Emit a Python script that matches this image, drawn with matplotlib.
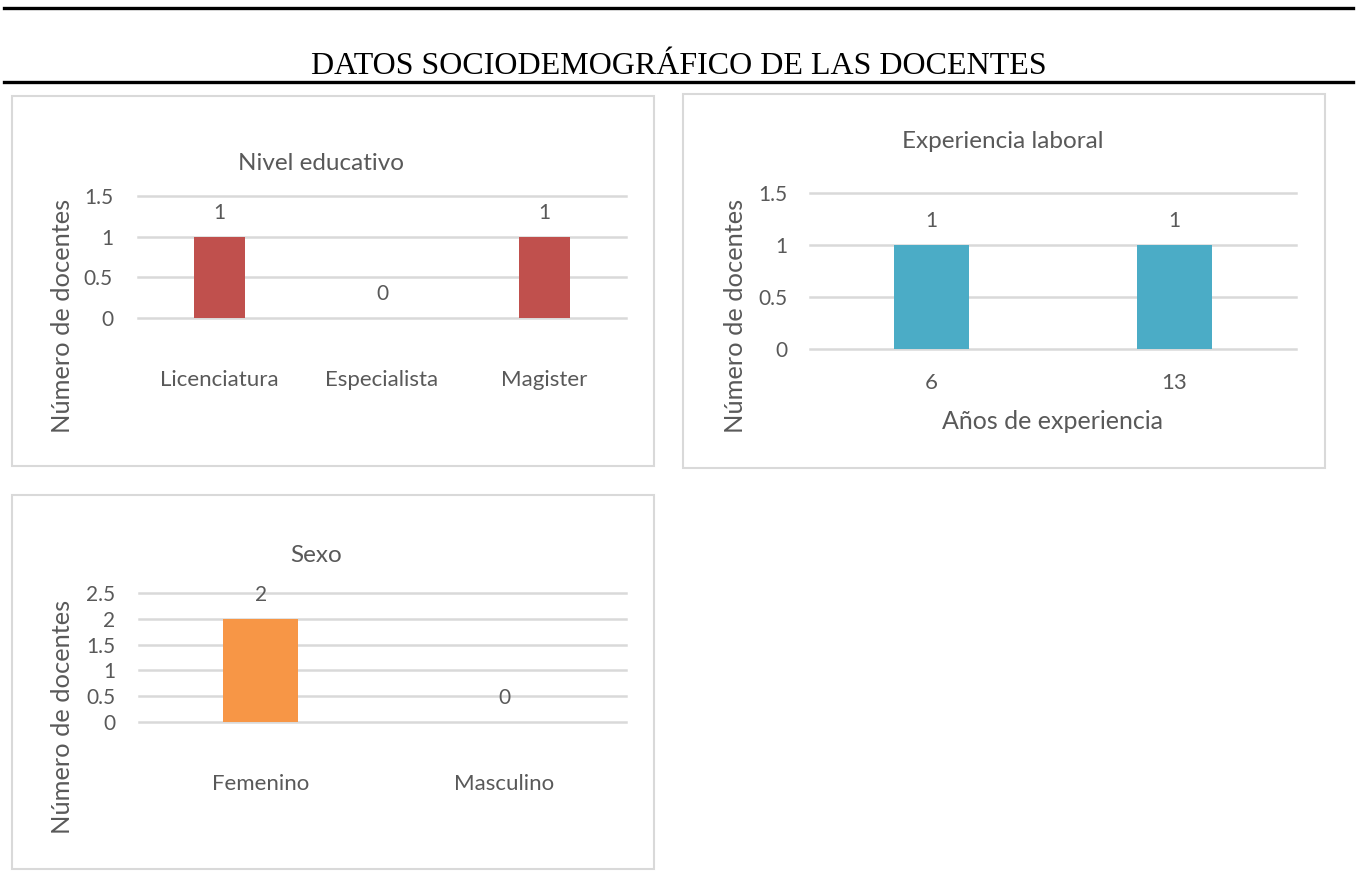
import matplotlib
matplotlib.use("Agg")
import matplotlib.pyplot as plt
from matplotlib.patches import Rectangle
from matplotlib.lines import Line2D

# data
nivel_cats = ["Licenciatura", "Especialista", "Magister"]
nivel_vals = [1, 0, 1]

exp_cats = ["6", "13"]
exp_vals = [1, 1]

sexo_cats = ["Femenino", "Masculino"]
sexo_vals = [2, 0]

W, H = 1357, 873
TXT = "#595959"
GRID = "#D9D9D9"
plt.rcParams['font.family'] = ['Lato', 'DejaVu Sans']

fig = plt.figure(figsize=(W / 100, H / 100), dpi=100)


def fx(x):
    return x / W


def fy(y):
    return 1 - y / H


def box(x0, y0, x1, y1):
    fig.patches.append(Rectangle((fx(x0), fy(y1)), fx(x1) - fx(x0), fy(y0) - fy(y1),
                                 transform=fig.transFigure, fill=False,
                                 edgecolor=GRID, lw=1.5))


def panel(x0, x1, ytop, ybot, cats, vals, color, ymax, step, xpad, ypad):
    ax = fig.add_axes([fx(x0), fy(ybot), fx(x1) - fx(x0), fy(ytop) - fy(ybot)])
    xs = range(len(cats))
    bars = ax.bar(xs, vals, width=0.31, color=color)
    ax.bar_label(bars, labels=[str(v) for v in vals], padding=10, fontsize=15, color=TXT)
    ax.set_xlim(-0.5, len(cats) - 0.5)
    ax.set_ylim(0, ymax)
    ticks = [i * step for i in range(int(round(ymax / step)) + 1)]
    ax.set_yticks(ticks)
    ax.set_yticklabels([("%g" % t) for t in ticks])
    ax.set_xticks(list(xs))
    ax.set_xticklabels(cats)
    ax.tick_params(axis='both', length=0, labelcolor=TXT)
    ax.tick_params(axis='x', pad=xpad, labelsize=16)
    ax.tick_params(axis='y', pad=ypad, labelsize=15)
    for s in ax.spines.values():
        s.set_visible(False)
    ax.set_axisbelow(True)
    ax.grid(axis='y', color=GRID, lw=1.8)
    for g in ax.yaxis.get_gridlines():
        g.set_clip_on(False)
    return ax


# top rules and heading
fig.add_artist(Line2D([0.003, 0.997], [fy(8), fy(8)], color='black', lw=2.4))
fig.add_artist(Line2D([0.003, 0.997], [fy(82), fy(82)], color='black', lw=2.4))
fig.text(0.5, fy(66), "DATOS SOCIODEMOGRÁFICO DE LAS DOCENTES", ha='center', va='center',
         family='Liberation Serif', fontsize=23, color='black')

# panel 1
box(12, 96, 654, 466)
panel(138, 626, 196, 318, nivel_cats, nivel_vals, '#C0504D', 1.5, 0.5, 37.5, 18)
fig.text(fx(321), fy(163), "Nivel educativo", ha='center', va='center', fontsize=17.5, color=TXT)
fig.text(fx(62), fy(316), "Número de docentes", ha='center', va='center', rotation=90,
         fontsize=18.3, color=TXT)

# panel 2
box(683, 94, 1325, 468)
panel(810, 1296, 193, 349, exp_cats, exp_vals, '#4BACC6', 1.5, 0.5, 17, 16)
fig.text(fx(1003), fy(141), "Experiencia laboral", ha='center', va='center', fontsize=17.5, color=TXT)
fig.text(fx(735), fy(316), "Número de docentes", ha='center', va='center', rotation=90,
         fontsize=18.3, color=TXT)
fig.text(fx(1053), fy(421), "Años de experiencia", ha='center', va='center', fontsize=18, color=TXT)

# panel 3
box(12, 495, 654, 869)
panel(139, 626, 593, 722, sexo_cats, sexo_vals, '#F79646', 2.5, 0.5, 37.5, 17)
fig.text(fx(316), fy(555), "Sexo", ha='center', va='center', fontsize=17.5, color=TXT)
fig.text(fx(62), fy(717), "Número de docentes", ha='center', va='center', rotation=90,
         fontsize=18.3, color=TXT)

fig.savefig("out.png", dpi=100)
